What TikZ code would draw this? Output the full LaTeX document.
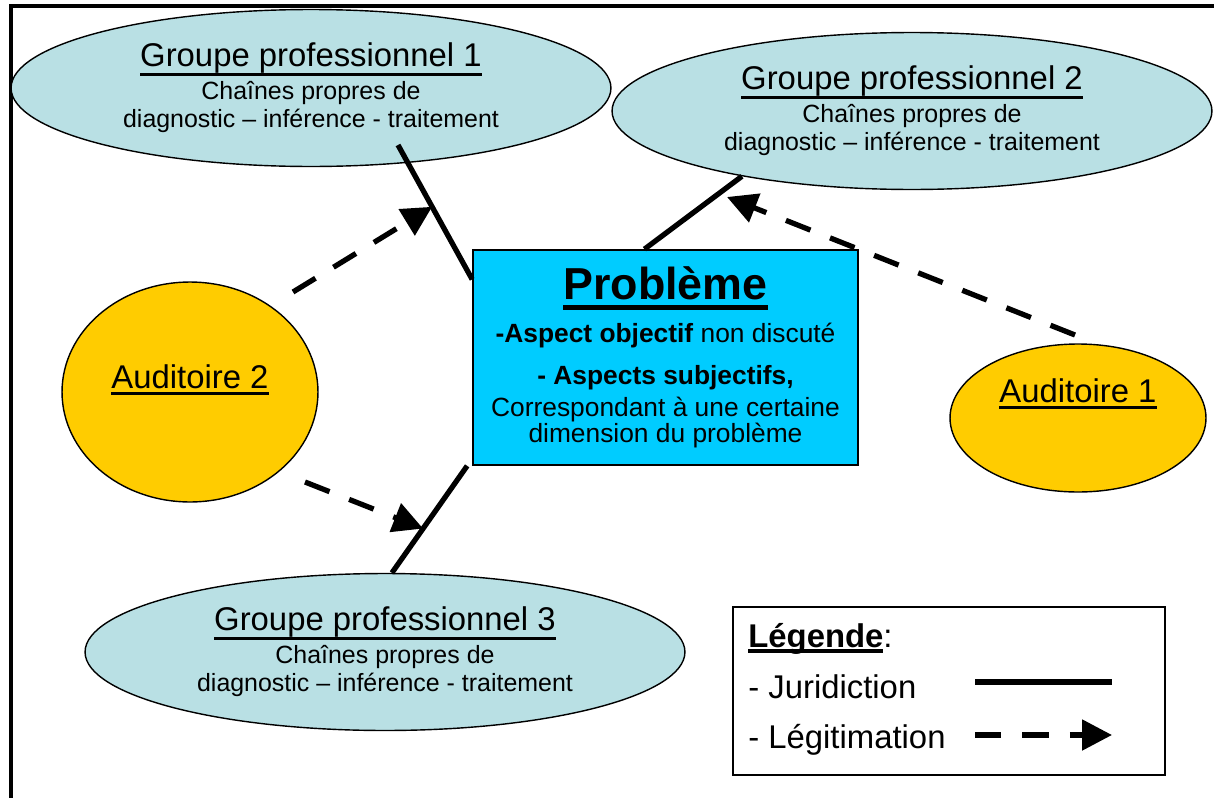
\documentclass[tikz,border=0pt]{standalone}
\usepackage{fontspec}
\setmainfont{Liberation Sans}
\usetikzlibrary{shapes.geometric,arrows.meta}
\definecolor{grpfill}{HTML}{B9E0E4}
\definecolor{audfill}{HTML}{FFCC00}
\definecolor{probfill}{HTML}{00CCFF}
\newsavebox{\ulbox}
\newcommand{\ulined}[3]{\sbox{\ulbox}{#3}\rlap{\smash{\rule[-#1]{\wd\ulbox}{#2}}}\usebox{\ulbox}}
\begin{document}
\begin{tikzpicture}[x=0.02cm, y=-0.02cm,
  groupe/.style={ellipse, draw, line width=0.8pt, fill=grpfill, minimum width=12cm, minimum height=3.14cm, inner sep=0pt, align=center, font=\fontsize{14.2}{16}\selectfont},
  auditoire/.style={ellipse, draw, line width=0.8pt, fill=audfill, minimum width=5.12cm, inner sep=0pt, text height=13.5pt, font=\fontsize{18.7}{20}\selectfont},
  jurid/.style={line width=3pt},
  legit/.style={line width=3pt, dash pattern=on 15pt off 12pt, -{Triangle[length=17pt,width=17pt]}},
  legtext/.style={anchor=base west, inner sep=0pt, font=\fontsize{18.7}{20}\selectfont}]
\useasboundingbox (0,0) rectangle (1214,798);
\draw[line width=2.2pt] (11,798) -- (11,6) -- (1214,6);
% groupes professionnels
\node[groupe] (g1) at (311,88) {{\fontsize{18.7}{20}\selectfont\ulined{5pt}{1.6pt}{Groupe professionnel 1}}\\[2.7pt]Chaînes propres de\\diagnostic – inférence - traitement};
\node[groupe] (g2) at (912,111) {{\fontsize{18.7}{20}\selectfont\ulined{5pt}{1.6pt}{Groupe professionnel 2}}\\[2.7pt]Chaînes propres de\\diagnostic – inférence - traitement};
\node[groupe] (g3) at (385,652) {{\fontsize{18.7}{20}\selectfont\ulined{5pt}{1.6pt}{Groupe professionnel 3}}\\[2.7pt]Chaînes propres de\\diagnostic – inférence - traitement};
% auditoires
\node[auditoire, minimum height=4.4cm, text depth=18pt] (aud2) at (190,392) {\ulined{4pt}{1.6pt}{Auditoire 2}};
\node[auditoire, minimum height=2.96cm, text depth=31.6pt] (aud1) at (1078,418) {\ulined{4pt}{1.6pt}{Auditoire 1}};
% probleme
\node[draw, line width=1pt, fill=probfill, minimum width=7.7cm, minimum height=4.3cm, inner sep=0pt, align=center, font=\fontsize{15}{15.3}\selectfont] (prob) at (665.5,357.5) {{\fontsize{25.5}{28}\selectfont\bfseries\ulined{6.2pt}{2.8pt}{Problème}}\\[9.1pt]\textbf{-Aspect objectif} non discuté\\[8.5pt]\textbf{- Aspects subjectifs,}\\[2.8pt]Correspondant à une certaine\\dimension du problème};
% juridiction
\coordinate (g1foot) at (398,145);
\draw[jurid] (g1foot) -- coordinate[pos=0.46] (j1) (prob.158.7);
\draw[jurid] (g2.201) -- (prob.101.8);
\draw[jurid] ([xshift=-0.1cm]prob.south west) -- coordinate[pos=0.586] (j3) (g3.85);
% legitimation
\coordinate (a2up) at (293,292);
\coordinate (a2down) at (305,482);
\coordinate (a1up) at (1075,335);
\coordinate (g2aim) at (727,197);
\draw[legit] (a2up) -- (j1);
\draw[legit] (a2down) -- (j3);
\draw[legit] (a1up) -- (g2aim);
% legende
\node[draw, line width=1pt, minimum width=8.64cm, minimum height=3.36cm, inner sep=0pt] (legbox) at (949,691) {};
\node[legtext] (legtitle) at (748,647) {\ulined{3.4pt}{2pt}{\textbf{Légende}}:};
\node[legtext] (legjur) at (748,698) {- Juridiction};
\node[legtext] (legleg) at (748,748) {- Légitimation};
\coordinate (jurA) at (975,682);
\coordinate (jurB) at (1112,682);
\draw[jurid] (jurA) -- (jurB);
\coordinate (legA) at (975,735);
\coordinate (legB) at (1112,735);
\draw[legit] (legA) -- (legB);
\end{tikzpicture}
\end{document}
